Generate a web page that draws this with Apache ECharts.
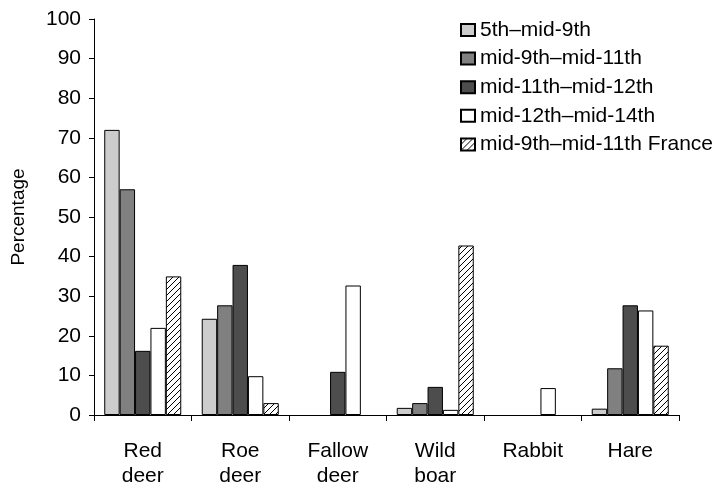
<!DOCTYPE html>
<html>
<head>
<meta charset="utf-8">
<script src="https://cdn.jsdelivr.net/npm/echarts@6/dist/echarts.min.js"></script>
<style>
  html, body { margin: 0; padding: 0; background: #fff; }
  #chart { width: 719px; height: 485px; }
</style>
</head>
<body>
<div id="chart"></div>
<script>
// Game species categories along the x axis
const categories = ['Red\ndeer', 'Roe\ndeer', 'Fallow\ndeer', 'Wild\nboar', 'Rabbit', 'Hare'];

// Period series (percentage); null where a species is not recorded
const seriesNames = [
  '5th\u2013mid-9th',
  'mid-9th\u2013mid-11th',
  'mid-11th\u2013mid-12th',
  'mid-12th\u2013mid-14th',
  'mid-9th\u2013mid-11th France'
];
const period5to9 = [72, 24.3, null, 1.8, null, 1.6];
const period9to11 = [57, 27.7, null, 3.0, null, 11.8];
const period11to12 = [16.2, 37.9, 10.9, 7.1, null, 27.7];
const period12to14 = [22, 9.8, 32.7, 1.3, 6.8, 26.4];
const period9to11France = [35, 3.0, null, 42.8, null, 17.5];

// Y axis ticks
const yMin = 0, yMax = 100, yStep = 10;

// Diagonal hatch fill
function hatchPattern() {
  const c = document.createElement('canvas');
  const s = 6;
  c.width = s; c.height = s;
  const ctx = c.getContext('2d');
  ctx.fillStyle = '#fff';
  ctx.fillRect(0, 0, s, s);
  ctx.strokeStyle = '#000';
  ctx.lineWidth = 1;
  ctx.beginPath();
  for (let k = -1; k <= 1; k++) {
    ctx.moveTo(k * s, s);
    ctx.lineTo(k * s + s, 0);
  }
  ctx.stroke();
  return { image: c, repeat: 'repeat' };
}

const fills = ['#cccccc', '#808080', '#4d4d4d', '#ffffff', hatchPattern()];
const dataSets = [period5to9, period9to11, period11to12, period12to14, period9to11France];

const font = 'Liberation Sans, Arial, sans-serif';
const fs = 21;

const chart = echarts.init(document.getElementById('chart'), null, { renderer: 'canvas' });
chart.setOption({
  animation: false,
  backgroundColor: '#fff',
  textStyle: { fontFamily: font, color: '#000' },
  grid: { left: 94, right: 40, top: 19, bottom: 70, outerBoundsMode: 'none', containLabel: false },
  legend: {
    orient: 'vertical',
    left: 460,
    top: 19.5,
    padding: 0,
    itemWidth: 14,
    itemHeight: 12,
    itemGap: 7.6,
    icon: 'rect',
    textStyle: { fontFamily: font, fontSize: fs, lineHeight: 21, color: '#000', padding: [0, 0, 0, 0] },
    data: seriesNames
  },
  xAxis: {
    type: 'category',
    data: categories,
    axisLine: { lineStyle: { color: '#000', width: 1 } },
    axisTick: { show: true, length: 6, lineStyle: { color: '#000' } },
    axisLabel: { fontFamily: font, fontSize: fs, color: '#000', margin: 24, lineHeight: 25, interval: 0 }
  },
  yAxis: {
    type: 'value',
    min: yMin, max: yMax, interval: yStep,
    name: 'Percentage',
    nameLocation: 'middle',
    nameGap: 66,
    nameTextStyle: { fontFamily: font, fontSize: 19, color: '#000' },
    axisLine: { show: true, lineStyle: { color: '#000', width: 1 } },
    axisTick: { show: true, length: 5, lineStyle: { color: '#000' } },
    axisLabel: { fontFamily: font, fontSize: fs, color: '#000', margin: 13 },
    splitLine: { show: false }
  },
  series: seriesNames.map((name, i) => ({
    name,
    type: 'bar',
    data: dataSets[i],
    barGap: '0%',
    barCategoryGap: '21%',
    itemStyle: { color: fills[i], borderColor: '#000', borderWidth: 1 },
    emphasis: { disabled: true }
  }))
});
</script>
</body>
</html>
